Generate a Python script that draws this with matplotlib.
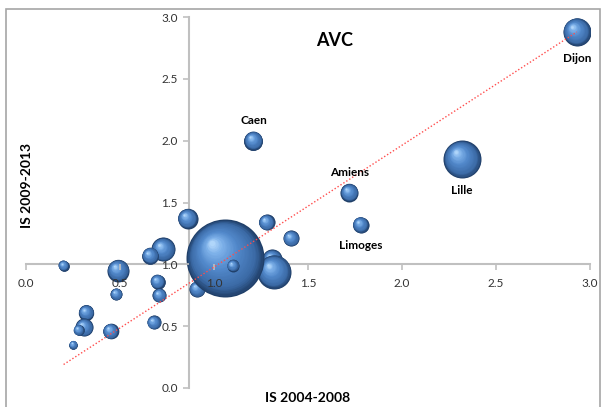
import matplotlib
matplotlib.use("Agg")
import matplotlib.pyplot as plt
import matplotlib.transforms as mtransforms
from matplotlib.colors import LinearSegmentedColormap
from matplotlib.patches import Rectangle
import numpy as np

plt.rcParams['font.family'] = ['Lato', 'DejaVu Sans']

# Indices de survie : 2004-2008 (x) et 2009-2013 (y), taille = poids de l'établissement
is_2004_2008 = [0.20, 0.49, 0.48, 0.73, 0.66, 0.70, 0.71, 0.68, 0.32, 0.31, 0.28, 0.45, 0.25,
                0.86, 0.91, 1.28, 1.41, 1.31, 1.32, 1.21, 1.72, 1.78, 2.32, 2.93, 1.06, 1.10]
is_2009_2013 = [0.99, 0.95, 0.76, 1.12, 1.07, 0.86, 0.75, 0.53, 0.61, 0.49, 0.47, 0.46, 0.35,
                1.37, 0.80, 1.34, 1.21, 1.04, 0.94, 2.00, 1.58, 1.32, 1.85, 2.88, 1.05, 0.99]
poids = [28, 121, 36, 144, 69, 53, 49, 49, 59, 81, 28, 61, 18,
         100, 64, 64, 64, 100, 289, 90, 81, 64, 361, 196, 1521, 36]
villes = ['', '', '', '', '', '', '', '', '', '', '', '', '',
          '', '', '', '', '', '', 'Caen', 'Amiens', 'Limoges', 'Lille', 'Dijon', '', '']
position_label = {'Caen': 'haut', 'Amiens': 'haut', 'Limoges': 'bas', 'Lille': 'bas', 'Dijon': 'bas'}

# droite de tendance
pente = 0.985
ordonnee = -0.007

fig = plt.figure(figsize=(6.06, 4.07), dpi=100)
ax = fig.add_axes([26 / 606, 1 - 388 / 407, 564 / 606, 371 / 407])
ax.set_xlim(0, 3)
ax.set_ylim(0, 3)

# bulles "3D" : cercles superposés de plus en plus clairs vers le reflet
cmap = LinearSegmentedColormap.from_list('bulle', [(0, '#203f68'), (0.18, '#3b6aa6'),
                                                   (0.55, '#5289cb'), (0.85, '#7fb2ea'),
                                                   (1, '#b0d6fa')])
n = 32
for xi, yi, w in zip(is_2004_2008, is_2009_2013, poids):
    r_pts = 0.72 * np.sqrt(w)  # rayon en points
    for k in range(n):
        t = k / (n - 1)
        f = 1 - 0.93 * t
        dx = -0.34 * r_pts * t
        dy = 0.38 * r_pts * t
        tr = mtransforms.offset_copy(ax.transData, fig=fig, x=dx, y=dy, units='points')
        ax.scatter([xi], [yi], s=(2 * r_pts * f) ** 2, color=cmap(t), linewidths=0,
                   transform=tr, zorder=2)

for xi, yi, w, v in zip(is_2004_2008, is_2009_2013, poids, villes):
    if v:
        r_pts = 0.72 * np.sqrt(w)
        if position_label[v] == 'haut':
            ax.annotate(v, (xi, yi), xytext=(0, r_pts + 4), textcoords='offset points',
                        ha='center', va='bottom', fontsize=8.5, fontweight='bold', zorder=4)
        else:
            ax.annotate(v, (xi, yi), xytext=(0, -r_pts - 5), textcoords='offset points',
                        ha='center', va='top', fontsize=8.5, fontweight='bold', zorder=4)

xt = np.array([min(is_2004_2008), max(is_2004_2008)])
ax.plot(xt, pente * xt + ordonnee, color='#ff4d4d', lw=1, ls=(0, (1, 1.5)), zorder=3)

ax.text(1.64, 2.81, 'AVC', ha='center', va='center', fontsize=13, fontweight='bold')

# axes croisés
ax.spines['top'].set_visible(False)
ax.spines['right'].set_visible(False)
ax.spines['left'].set_position(('data', 0.867))
ax.spines['bottom'].set_position(('data', 1.0))
for s in ['left', 'bottom']:
    ax.spines[s].set_color('#c0c0c0')
    ax.spines[s].set_linewidth(1.5)
    ax.spines[s].set_zorder(1)
ax.set_axisbelow(False)
ticks = [0.0, 0.5, 1.0, 1.5, 2.0, 2.5, 3.0]
ax.set_xticks(ticks)
ax.set_yticks(ticks)
ax.set_xticklabels(['%.1f' % t for t in ticks])
ax.set_yticklabels(['%.1f' % t for t in ticks])
ax.tick_params(direction='out', length=4, width=1.2, color='#c0c0c0', labelsize=8.5,
               labelcolor='#333333')
ax.tick_params(axis='x', pad=6)
ax.tick_params(axis='y', pad=4)
ax.patch.set_visible(False)

fig.text(308 / 606, 1 - 398 / 407, 'IS 2004-2008', ha='center', va='center',
         fontsize=10, fontweight='bold')
fig.text(27 / 606, 1 - 185 / 407, 'IS 2009-2013', ha='center', va='center',
         rotation=90, fontsize=10, fontweight='bold')

fig.patches.append(Rectangle((6 / 606, -0.01), 594 / 606, 1 - 9 / 407 + 0.01,
                             transform=fig.transFigure, fill=False, edgecolor='#a6a6a6',
                             linewidth=1.2))

fig.savefig('out.png', dpi=100)
